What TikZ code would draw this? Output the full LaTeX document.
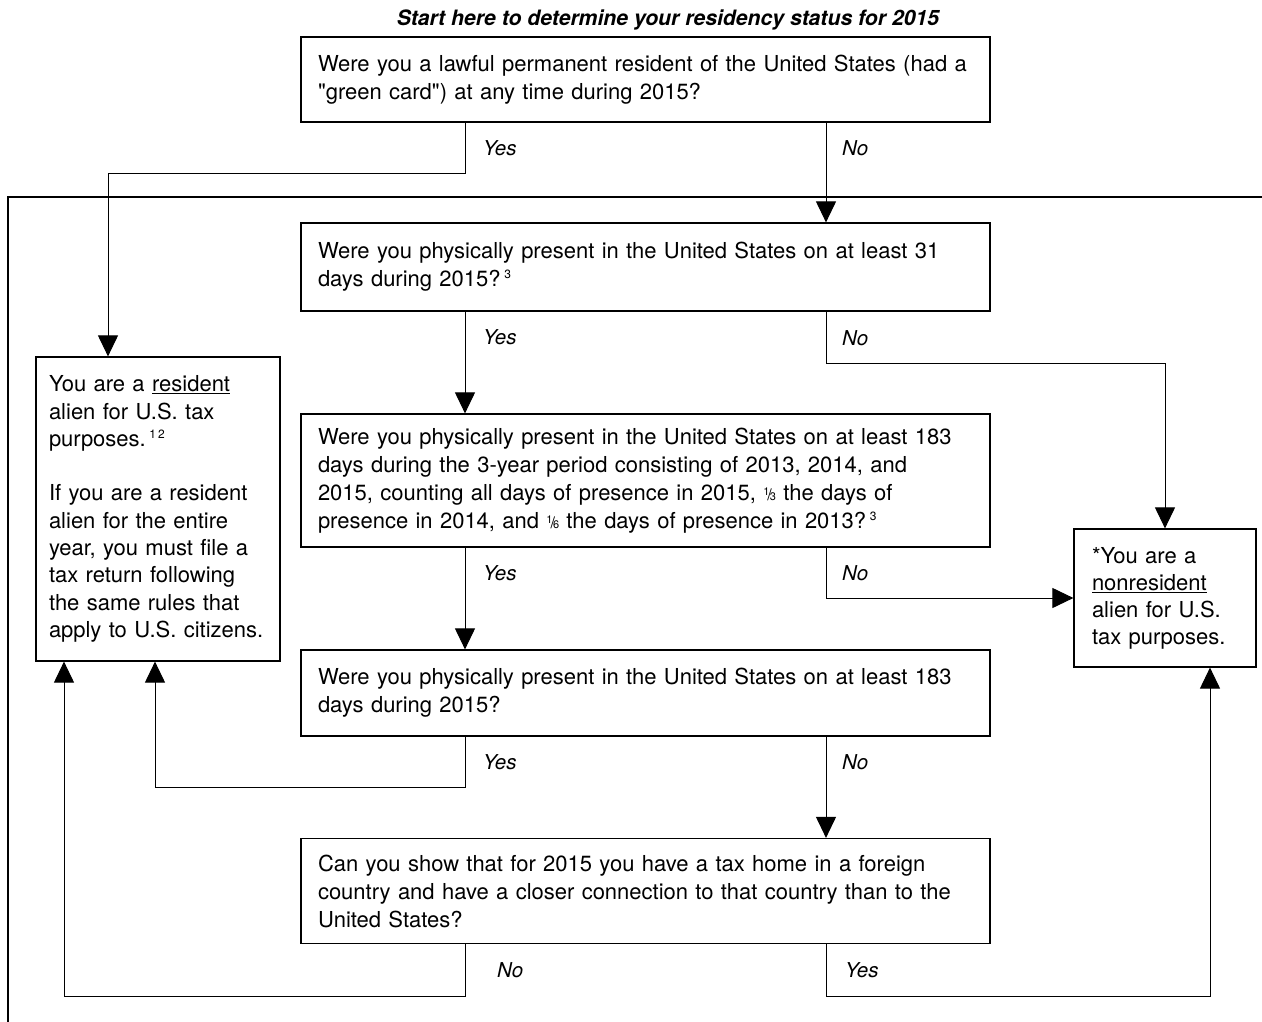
\documentclass[tikz,border=0pt]{standalone}
\usepackage{fontspec}
\setmainfont{TeX Gyre Heros}
\usetikzlibrary{arrows.meta,calc}
\newcommand\fnmark[1]{\raisebox{8pt}{\fontsize{12}{12}\selectfont #1}}
\newcommand\myfrac[2]{\raisebox{5pt}{\fontsize{11}{11}\selectfont #1}\kern-2pt{\fontsize{16}{16}\selectfont /}\kern-2pt{\fontsize{11}{11}\selectfont #2}}
\begin{document}
\begin{tikzpicture}[x=1pt,y=-1pt,
  qbox/.style={draw, line width=1.2pt, minimum width=689pt, inner xsep=17pt, inner ysep=0pt,
    text width=655pt, align=left, font=\fontsize{22}{28}\selectfont},
  abox/.style={draw, line width=1.2pt, inner ysep=0pt, align=left},
  lbl/.style={anchor=west, font=\itshape\fontsize{20.5}{24}\selectfont, inner sep=0pt},
  arr/.style={line width=1pt, -{Triangle[width=20pt,length=21pt]}},
  conn/.style={line width=1pt},
  frame/.style={line width=2pt}]
\useasboundingbox (0,0) rectangle (1262,1022);
\fill[white] (0,0) rectangle (1262,1022);

\node[font=\bfseries\itshape\fontsize{21.2}{24}\selectfont] (title) at (668,20) {Start here to determine your residency status for 2015};

\node[qbox, minimum height=85pt] (q1) at (645.5,79.5) {Were you a lawful permanent resident of the United States (had a\\ \textquotedbl green card\textquotedbl) at any time during 2015?};
\node[qbox, minimum height=88pt] (q2) at (645.5,267) {Were you physically present in the United States on at least 31\\ days during 2015?\,\fnmark{3}};
\node[qbox, minimum height=133pt] (q3) at (645.5,480.5) {Were you physically present in the United States on at least 183\\ days during the 3-year period consisting of 2013, 2014, and\\ 2015, counting all days of presence in 2015, \myfrac{1}{3} the days of\\ presence in 2014, and \myfrac{1}{6} the days of presence in 2013?\,\fnmark{3}};
\node[qbox, minimum height=86pt] (q4) at (645.5,693) {Were you physically present in the United States on at least 183\\ days during 2015?};
\node[qbox, minimum height=105pt] (q5) at (645.5,891) {Can you show that for 2015 you have a tax home in a foreign\\ country and have a closer connection to that country than to the\\ United States?};

\node[abox, minimum width=244pt, minimum height=304pt, inner xsep=13pt, text width=218pt,
  font=\fontsize{22}{27.3}\selectfont] (res) at (158,509)
  {You are a \underline{resident}\\ alien for U.S. tax\\ purposes.\,\fnmark{1\,2}\\[27.3pt] If you are a resident\\ alien for the entire\\ year, you must file a\\ tax return following\\ the same rules that\\ apply to U.S. citizens.};
\node[abox, minimum width=182pt, minimum height=138pt, inner xsep=18pt, text width=146pt,
  font=\fontsize{22}{27}\selectfont] (nr) at (1165,598)
  {*You are a\\ \underline{nonresident}\\ alien for U.S.\\ tax purposes.};

\draw[frame] (8,1022) -- (8,197) -- (1262,197);

\coordinate (cL) at (465,0);
\coordinate (cR) at (826,0);
\coordinate (cA) at (108,0);
\coordinate (cB) at (155,0);
\coordinate (cC) at (64,0);
\coordinate (cD) at (1210,0);

\draw[arr] (q1.south -| cL) -- ++(0,51) -| (res.north -| cA);
\draw[arr] (q1.south -| cR) -- (q2.north -| cR);
\draw[arr] (q2.south -| cL) -- (q3.north -| cL);
\draw[arr] (q2.south -| cR) -- ++(0,52) -| (nr.north);
\draw[arr] (q3.south -| cL) -- (q4.north -| cL);
\draw[arr] (q3.south -| cR) |- (nr.west);
\draw[arr] (q4.south -| cL) -- ++(0,51) -| (res.south -| cB);
\draw[arr] (q4.south -| cR) -- (q5.north -| cR);
\draw[arr] (q5.south -| cL) -- ++(0,52) -| (res.south -| cC);
\draw[arr] (q5.south -| cR) -- ++(0,52) -| (nr.south -| cD);

\node[lbl] (l1y) at (483,148) {Yes};
\node[lbl] (l1n) at (842,148) {No};
\node[lbl] (l2y) at (483,337) {Yes};
\node[lbl] (l2n) at (842,338) {No};
\node[lbl] (l3y) at (483,573) {Yes};
\node[lbl] (l3n) at (842,573) {No};
\node[lbl] (l4y) at (483,762) {Yes};
\node[lbl] (l4n) at (842,762) {No};
\node[lbl] (l5n) at (497,970) {No};
\node[lbl] (l5y) at (845,970) {Yes};
\end{tikzpicture}
\end{document}
